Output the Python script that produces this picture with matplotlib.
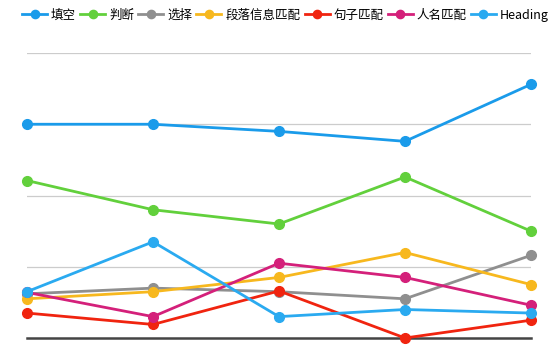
import matplotlib.pyplot as plt
import numpy as np

plt.rcParams["font.family"] = ["Noto Sans CJK SC", "DejaVu Sans"]

# five unlabeled points along the x axis
positions = np.arange(5)

series_names = ["填空", "判断", "选择", "段落信息匹配", "句子匹配", "人名匹配", "Heading"]
fill_blank = [15.0, 15.0, 14.5, 13.8, 17.8]
true_false = [11.05, 9.0, 8.0, 11.3, 7.5]
choice = [3.1, 3.5, 3.25, 2.75, 5.8]
paragraph_match = [2.75, 3.25, 4.25, 6.0, 3.75]
sentence_match = [1.75, 0.95, 3.3, 0.0, 1.25]
name_match = [3.2, 1.5, 5.25, 4.25, 2.3]
heading = [3.25, 6.75, 1.5, 2.0, 1.75]

colors = ["#1a9bea", "#62d03c", "#8f8f8f", "#f7b81e", "#f0240f", "#d4207a", "#2aaaf0"]
all_series = [fill_blank, true_false, choice, paragraph_match,
              sentence_match, name_match, heading]

fig = plt.figure(figsize=(5.54, 3.47), dpi=100)
ax = fig.add_axes([27 / 554, 9 / 347, 504 / 554, 285 / 347])

for name, vals, c in zip(series_names, all_series, colors):
    ax.plot(positions, vals, color=c, lw=2.0, marker="o", ms=7,
            label=name, clip_on=False, zorder=3)

ax.set_xlim(0, 4)
ax.set_ylim(0, 20)
ax.set_yticks([5, 10, 15, 20])
ax.grid(axis="y", color="#cccccc", lw=0.9)
ax.set_xticks([])
ax.tick_params(left=False, labelleft=False)
for s in ["top", "right", "left"]:
    ax.spines[s].set_visible(False)
ax.spines["bottom"].set_color("#444444")
ax.spines["bottom"].set_linewidth(1.8)
ax.spines["bottom"].set_zorder(2)

fig.legend(loc="upper center", bbox_to_anchor=(0.515, 1.0), ncol=7, frameon=False,
           fontsize=9, handlelength=2.0, handletextpad=0.3, columnspacing=0.35,
           borderaxespad=0.3, markerscale=0.85)

fig.savefig("out.png", dpi=100)
